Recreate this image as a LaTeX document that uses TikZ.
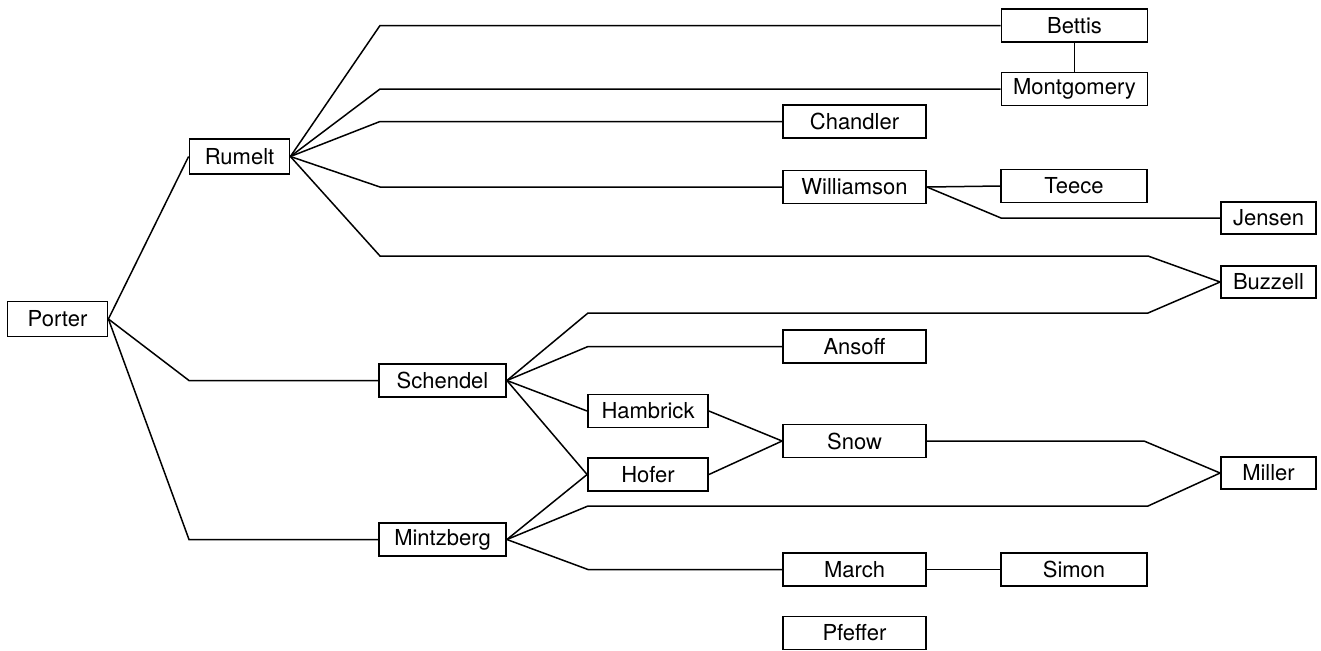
\documentclass[tikz,border=0pt]{standalone}
\usepackage{fontspec}
\setmainfont{TeX Gyre Heros}
\usepackage{tikz}
\usetikzlibrary{calc}

\tikzset{
	box/.style={draw, line width=0.9pt, inner sep=0pt, minimum height=16.5pt, font=\fontsize{11}{13}\selectfont},
	sbox/.style={box, minimum width=50pt},
	mbox/.style={box, minimum width=63.5pt},
	hbox/.style={box, minimum width=60pt},
	lbox/.style={box, minimum width=71.5pt},
	xbox/.style={box, minimum width=73pt},
	rbox/.style={box, minimum width=47.5pt, minimum height=16pt},
	link/.style={line width=0.75pt}
}

\begin{document}
\begin{tikzpicture}[x=0.5pt, y=-0.5pt]
				\useasboundingbox (0,0) rectangle (1321,650);

				% bend columns
				\coordinate (pb) at (189,0);
				\coordinate (rb) at (380,0);
				\coordinate (sb) at (588,0);
				\coordinate (wb) at (1001,0);
				\coordinate (zb) at (1148,0);

				\node[sbox, minimum height=17.5pt] (porter) at (57.5,319) {Porter};
				\node[sbox, minimum height=17.5pt] (rumelt) at (239.5,156.5) {Rumelt};
				\node[mbox] (schendel) at (442.5,380.5) {Schendel};
				\node[mbox] (mintzberg) at (442.5,539.5) {Mintzberg};

				\node[xbox] (bettis) at (1074.5,25.5) {Bettis};
				\node[xbox] (montgomery) at (1074.5,89) {Montgomery};
				\node[lbox] (chandler) at (854.5,121.5) {Chandler};
				\node[lbox] (williamson) at (854.5,187) {Williamson};
				\node[xbox] (teece) at (1074,186) {Teece};
				\node[rbox] (jensen) at (1268.5,218) {Jensen};
				\node[rbox] (buzzell) at (1268.5,282) {Buzzell};

				\node[lbox] (ansoff) at (854.5,346.5) {Ansoff};
				\node[hbox] (hambrick) at (648,411) {Hambrick};
				\node[hbox] (hofer) at (648,474.5) {Hofer};
				\node[lbox] (snow) at (854.5,441) {Snow};
				\node[rbox] (miller) at (1268.5,473) {Miller};
				\node[lbox] (march) at (854.5,569.5) {March};
				\node[xbox] (simon) at (1074,569.5) {Simon};
				\node[lbox] (pfeffer) at (854.5,633) {Pfeffer};

				% Porter
				\draw[link] (porter.east) -- (rumelt.west);
				\draw[link] (porter.east) -- (schendel.west -| pb) -- (schendel.west);
				\draw[link] (porter.east) -- (mintzberg.west -| pb) -- (mintzberg.west);

				% Rumelt
				\draw[link] (rumelt.east) -- (bettis.west -| rb) -- (bettis.west);
				\draw[link] (rumelt.east) -- (montgomery.west -| rb) -- (montgomery.west);
				\draw[link] (rumelt.east) -- (chandler.west -| rb) -- (chandler.west);
				\draw[link] (rumelt.east) -- (williamson.west -| rb) -- (williamson.west);
				\draw[link] (rumelt.east) -- ($(rb)+(0,256)$) -- ($(zb)+(0,256)$) -- (buzzell.west);
				\draw[link] (bettis.south) -- (montgomery.north);
				\draw[link] (williamson.east) -- (teece.west);
				\draw[link] (williamson.east) -- (jensen.west -| wb) -- (jensen.west);

				% Schendel
				\draw[link] (schendel.east) -- ($(sb)+(0,313)$) -- ($(zb)+(0,313)$) -- (buzzell.west);
				\draw[link] (schendel.east) -- (ansoff.west -| sb) -- (ansoff.west);
				\draw[link] (schendel.east) -- (hambrick.west);
				\draw[link] (schendel.east) -- (hofer.west);

				% Mintzberg
				\draw[link] (mintzberg.east) -- (hofer.west);
				\draw[link] (mintzberg.east) -- ($(sb)+(0,506)$) -- ($(zb)+(0,506)$) -- (miller.west);
				\draw[link] (mintzberg.east) -- (march.west -| sb) -- (march.west);
				\draw[link] (march.east) -- (simon.west);

				% Snow
				\draw[link] (hambrick.east) -- (snow.west);
				\draw[link] (hofer.east) -- (snow.west);
				\draw[link] (snow.east) -- ($(zb)+(-4,441)$) -- (miller.west);

			\end{tikzpicture}
\end{document}
